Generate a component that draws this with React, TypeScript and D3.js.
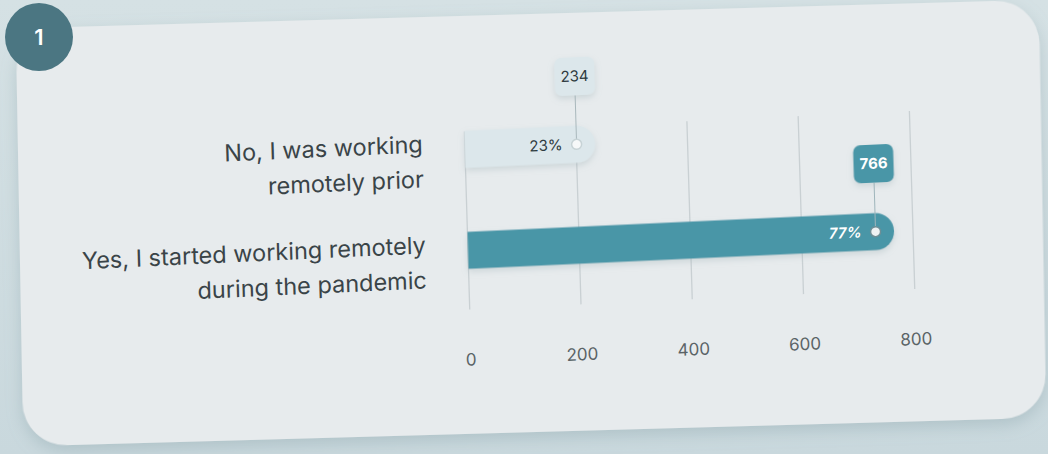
import React from "react";
import * as d3 from "d3";

const categories = ["No, I was working remotely prior", "Yes, I started working remotely during the pandemic"];
const categoryLines = [["No, I was working", "remotely prior"], ["Yes, I started working remotely", "during the pandemic"]];
const values = [234, 766];
const percents = ["23%", "77%"];
const tickValues = [0, 200, 400, 600, 800];
const badgeText = "1";

const W = 1048, H = 454;
const FONT = "Inter, 'Noto Sans', sans-serif";
const TEAL = "#4a96a7";
const PALE = "#dce7eb";

export default function App() {
  const x = d3.scaleLinear().domain([0, 800]).range([468, 913]);
  const y = d3.scalePoint<string>().domain(categories).range([148, 249]);
  const barH = 37;
  const r = barH / 2;
  const gridTop = 130, gridBottom = 308;
  const tickY = 364;
  const boxOffset = 68;

  const barPath = (v: number, cy: number) => {
    const x0 = x(0), x1 = x(v);
    const p = d3.path();
    p.moveTo(x0, cy - r);
    p.lineTo(x1 - r, cy - r);
    p.arc(x1 - r, cy, r, -Math.PI / 2, Math.PI / 2, false);
    p.lineTo(x0, cy + r);
    p.closePath();
    return p.toString();
  };

  const chartT = "translate(500,250) matrix(1,-0.046,0.03,1,0,0) translate(-500,-250)";
  const cardT = "translate(500,250) matrix(1,-0.028,0.018,1,0,0) translate(-500,-250)";

  return (
    <svg width={W} height={H} style={{ position: "fixed", left: 0, top: 0, display: "block" }}>
      <defs>
        <linearGradient id="bg" x1="0" y1="0" x2="0" y2="1">
          <stop offset="0" stopColor="#d5e1e4" />
          <stop offset="1" stopColor="#c9d8dd" />
        </linearGradient>
        <filter id="cardShadow" x="-10%" y="-10%" width="120%" height="130%">
          <feDropShadow dx="0" dy="6" stdDeviation="8" floodColor="#7f9ba3" floodOpacity="0.35" />
        </filter>
        <filter id="soft" x="-20%" y="-50%" width="140%" height="200%">
          <feDropShadow dx="0" dy="3" stdDeviation="3" floodColor="#8fa5ab" floodOpacity="0.3" />
        </filter>
      </defs>
      <rect x={0} y={0} width={W} height={H} fill="url(#bg)" />
      <g transform={cardT}>
        <rect x={20} y={15} width={1023} height={418} rx={44} fill="#e7ebed" filter="url(#cardShadow)" />
      </g>
      <g transform={chartT} fontFamily={FONT}>
        {tickValues.map((t) => (
          <line key={"g" + t} x1={x(t)} x2={x(t)} y1={gridTop} y2={gridBottom} stroke="#c9d0d3" strokeWidth={1.3} />
        ))}
        {tickValues.map((t) => (
          <text key={"t" + t} x={x(t)} y={tickY} textAnchor="middle" fontSize={17} fill="#5a6366">{t}</text>
        ))}
        {categories.map((c, i) => {
          const cy = y(c)!;
          return (
            <g key={c}>
              {categoryLines[i].map((ln, j) => (
                <text key={j} x={426} y={cy + 1 + j * 35} textAnchor="end" fontSize={23.5} fill="#3a4448">{ln}</text>
              ))}
            </g>
          );
        })}
        {categories.map((c, i) => {
          const cy = y(c)!;
          const dark = i === 1;
          const dotX = x(values[i]) - r;
          const boxCy = cy - boxOffset;
          return (
            <g key={"b" + c}>
              <path d={barPath(values[i], cy)} fill={dark ? TEAL : PALE} filter="url(#soft)" />
              <line x1={dotX} x2={dotX} y1={boxCy + 19} y2={cy} stroke={dark ? "#9fb5bb" : "#a9b8bc"} strokeWidth={1} />
              <circle cx={dotX} cy={cy} r={5} fill={dark ? "#eef2f3" : "#f6f8f9"} stroke={dark ? "#6d8e96" : "#c7d3d6"} strokeWidth={1.5} />
              <text x={dotX - 14} y={cy + 5} textAnchor="end" fontSize={15} fontWeight={dark ? 600 : 400}
                fontStyle={dark ? "italic" : "normal"} fill={dark ? "#ffffff" : "#2e3a3e"}>{percents[i]}</text>
              <rect x={dotX - 20} y={boxCy - 19} width={40} height={38} rx={7} fill={dark ? TEAL : PALE} filter="url(#soft)" />
              <text x={dotX} y={boxCy + 5} textAnchor="middle" fontSize={15} fontWeight={dark ? 700 : 400}
                fill={dark ? "#ffffff" : "#2e3a3e"}>{values[i]}</text>
            </g>
          );
        })}
      </g>
      <circle cx={39} cy={37} r={34} fill="#4b7682" />
      <text x={39} y={45} textAnchor="middle" fontFamily={FONT} fontSize={22} fontWeight={600} fill="#ffffff">{badgeText}</text>
    </svg>
  );
}
